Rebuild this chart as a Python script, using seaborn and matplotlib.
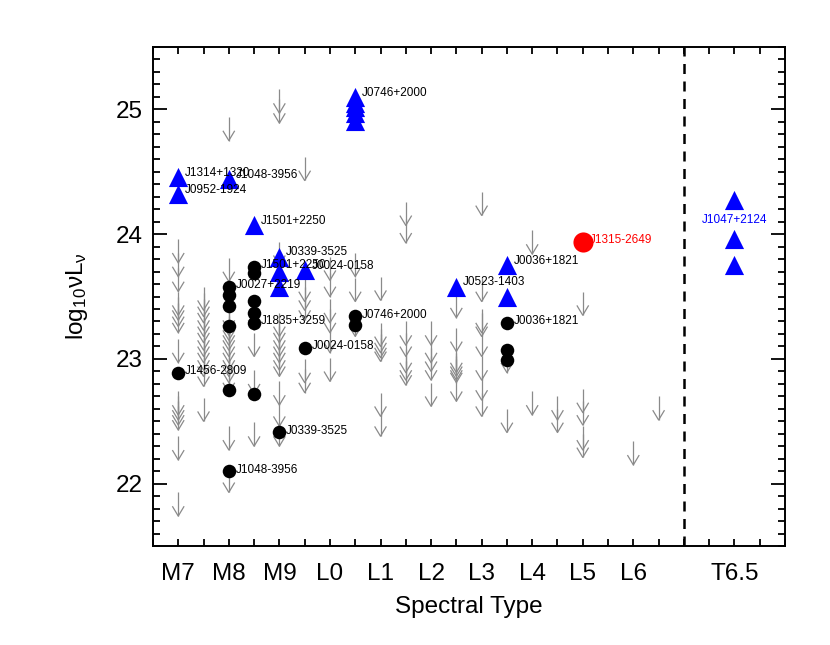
import numpy as np
import pandas as pd
import matplotlib
matplotlib.use("Agg")
import matplotlib.pyplot as plt
from matplotlib.path import Path
from matplotlib.ticker import MultipleLocator, FixedLocator
import seaborn as sns

# spectral type axis: M7 = 0, M8 = 1, ... L6 = 9, T6.5 = 11
tick_pos = [0, 1, 2, 3, 4, 5, 6, 7, 8, 9, 11]
tick_labels = ["M7", "M8", "M9", "L0", "L1", "L2", "L3", "L4", "L5", "L6", "T6.5"]
divider_x = 10

# upper limits (grey arrows)
limit_x = ([0] * 14 + [0.5] * 13 + [1] * 15 + [1.5] * 4 + [2] * 13 + [2.5] * 6
           + [3] * 6 + [3.5] * 3 + [4] * 7 + [4.5] * 7 + [5] * 5 + [5.5] * 7
           + [6] * 8 + [6.5] * 2 + [7] * 2 + [7.5] * 2 + [8] * 5 + [9] + [9.5])
limit_y = [
    23.77, 23.66, 23.54, 23.35, 23.31, 23.26, 23.21, 22.97, 22.55, 22.51, 22.47, 22.43, 22.19, 21.74,
    23.39, 23.34, 23.29, 23.23, 23.18, 23.13, 23.07, 23.02, 22.97, 22.91, 22.86, 22.78, 22.50,
    24.75, 23.62, 23.23, 23.19, 23.15, 23.11, 23.07, 23.02, 22.97, 22.91, 22.86, 22.81, 22.73, 22.27, 21.93,
    23.23, 23.02, 22.72, 22.30,
    24.97, 24.89, 23.75, 23.18, 23.13, 23.07, 23.02, 22.97, 22.91, 22.86, 22.63, 22.46, 22.30,
    24.43, 23.46, 23.39, 23.31, 22.81, 22.73,
    23.63, 23.50, 23.29, 23.21, 23.05, 22.82,
    23.66, 23.46, 23.18,
    23.47, 23.10, 23.05, 23.01, 22.98, 22.54, 22.38,
    24.07, 23.93, 23.11, 23.02, 22.89, 22.83, 22.79,
    23.11, 22.97, 22.90, 22.83, 22.62,
    23.33, 23.06, 22.89, 22.86, 22.83, 22.81, 22.66,
    24.15, 23.46, 23.21, 23.18, 23.02, 22.83, 22.67, 22.54,
    22.89, 22.41,
    23.84, 22.55,
    22.51, 22.41,
    23.35, 22.57, 22.47, 22.27, 22.21,
    22.15,
    22.51,
]

# detections: black circles
dot_x = [0, 1, 1, 1, 1, 1, 1, 1.5, 1.5, 1.5, 1.5, 1.5, 1.5, 2, 2.5, 3.5, 3.5, 6.5, 6.5, 6.5]
dot_y = [22.89, 23.58, 23.51, 23.42, 23.26, 22.75, 22.10, 23.74, 23.69, 23.46, 23.37, 23.29, 22.72,
         22.41, 23.09, 23.34, 23.27, 23.29, 23.07, 22.99]

# detections: blue triangles
tri_x = [0, 0, 1, 1.5, 2, 2, 2, 2.5, 3.5, 3.5, 3.5, 3.5, 3.5, 5.5, 6.5, 6.5, 11, 11, 11]
tri_y = [24.46, 24.32, 24.44, 24.07, 23.82, 23.70, 23.58, 23.71, 25.10, 25.05, 25.02, 24.97, 24.91,
         23.58, 23.75, 23.50, 24.27, 23.96, 23.75]

# red circle
red_x = [8]
red_y = [23.94]

# names next to triangles
tri_names = ["J1314+1320", "J0952-1924", "J1048-3956", "J1501+2250", "J0339-3525", "J0024-0158",
             "J0746+2000", "J0523-1403", "J0036+1821"]
tri_name_x = [0, 0, 1, 1.5, 2, 2.5, 3.5, 5.5, 6.5]
tri_name_y = [24.46, 24.32, 24.44, 24.07, 23.82, 23.71, 25.10, 23.58, 23.75]

# names next to circles
dot_names = ["J1456-2809", "J0027+2219", "J1048-3956", "J1501+2250", "J1835+3259", "J0339-3525",
             "J0024-0158", "J0746+2000", "J0036+1821"]
dot_name_x = [0, 1, 1, 1.5, 1.5, 2, 2.5, 3.5, 6.5]
dot_name_y = [22.89, 23.58, 22.10, 23.74, 23.29, 22.41, 23.09, 23.34, 23.29]

t_name = "J1047+2124"
t_name_x, t_name_y = 11, 23.96
red_name = "J1315-2649"

sns.set_style("ticks")
plt.rcParams["font.family"] = ["Liberation Sans", "DejaVu Sans"]
plt.rcParams["mathtext.fontset"] = "custom"
plt.rcParams["mathtext.rm"] = "Liberation Sans"
plt.rcParams["mathtext.it"] = "Liberation Sans"
for key in ["text.color", "axes.labelcolor", "xtick.color", "ytick.color", "axes.edgecolor"]:
    plt.rcParams[key] = "black"

fig = plt.figure(figsize=(8.3, 6.45), dpi=100)
ax = fig.add_axes([0.1843, 0.1535, 0.7615, 0.7736])

grey = "#8a8a8a"
limits = pd.DataFrame({"x": limit_x, "y": limit_y})
stem = 0.19
ax.vlines(limits.x, limits.y, limits.y + stem, colors=grey, linewidth=0.9, zorder=2)
vee = Path([(-0.6, 1.0), (0.0, 0.0), (0.6, 1.0)], [Path.MOVETO, Path.LINETO, Path.LINETO])
ax.scatter(limits.x, limits.y, marker=vee, s=200, facecolors="none", edgecolors=grey,
           linewidths=0.9, zorder=2)

dots = pd.DataFrame({"x": dot_x, "y": dot_y})
tris = pd.DataFrame({"x": tri_x, "y": tri_y})
reds = pd.DataFrame({"x": red_x, "y": red_y})
sns.scatterplot(data=dots, x="x", y="y", ax=ax, color="black", marker="o", s=95,
                edgecolor="black", linewidth=0, zorder=3)
sns.scatterplot(data=tris, x="x", y="y", ax=ax, color="#0000ff", marker="^", s=190,
                edgecolor="#0000ff", linewidth=0, zorder=4)
sns.scatterplot(data=reds, x="x", y="y", ax=ax, color="#ff0000", marker="o", s=210,
                edgecolor="#ff0000", linewidth=0, zorder=4)

for name, x, y in zip(tri_names, tri_name_x, tri_name_y):
    ax.annotate(name, (x, y), xytext=(5, 3), textcoords="offset points",
                fontsize=8.5, va="center", ha="left", color="black", zorder=5)
for name, x, y in zip(dot_names, dot_name_x, dot_name_y):
    ax.annotate(name, (x, y), xytext=(5, 1), textcoords="offset points",
                fontsize=8.5, va="center", ha="left", color="black", zorder=5)
ax.annotate(red_name, (red_x[0], red_y[0]), xytext=(5, 1), textcoords="offset points",
            fontsize=8.5, va="center", ha="left", color="#ff0000", zorder=5)
ax.annotate(t_name, (t_name_x, t_name_y), xytext=(0, 14), textcoords="offset points",
            fontsize=8.5, va="center", ha="center", color="#0000ff", zorder=5)

ax.axvline(divider_x, color="black", linewidth=1.8, linestyle=(0, (4, 3)), zorder=1)

ax.set_xlim(-0.5, 12)
ax.set_ylim(21.5, 25.5)
ax.xaxis.set_major_locator(FixedLocator(tick_pos))
ax.set_xticklabels(tick_labels)
ax.xaxis.set_minor_locator(MultipleLocator(0.5))
ax.yaxis.set_major_locator(MultipleLocator(1))
ax.yaxis.set_minor_locator(MultipleLocator(0.1))
ax.tick_params(which="both", direction="in", top=True, right=True, width=1.3, color="black",
               labelsize=17.5, labelcolor="black")
ax.tick_params(axis="x", which="major", length=5, pad=12)
ax.tick_params(axis="x", which="minor", length=5)
ax.tick_params(axis="y", which="major", length=10, pad=7)
ax.tick_params(axis="y", which="minor", length=5)
for s in ax.spines.values():
    s.set_linewidth(1.4)
    s.set_color("black")

ax.set_xlabel("Spectral Type", fontsize=17.5, color="black")
ax.set_ylabel("log$_{10}$\u03bdL$_{\u03bd}$", fontsize=17.5, color="black")
ax.xaxis.set_label_coords(0.5, -0.1)
ax.yaxis.set_label_coords(-0.1, 0.5)

fig.savefig("out.png", dpi=100)
